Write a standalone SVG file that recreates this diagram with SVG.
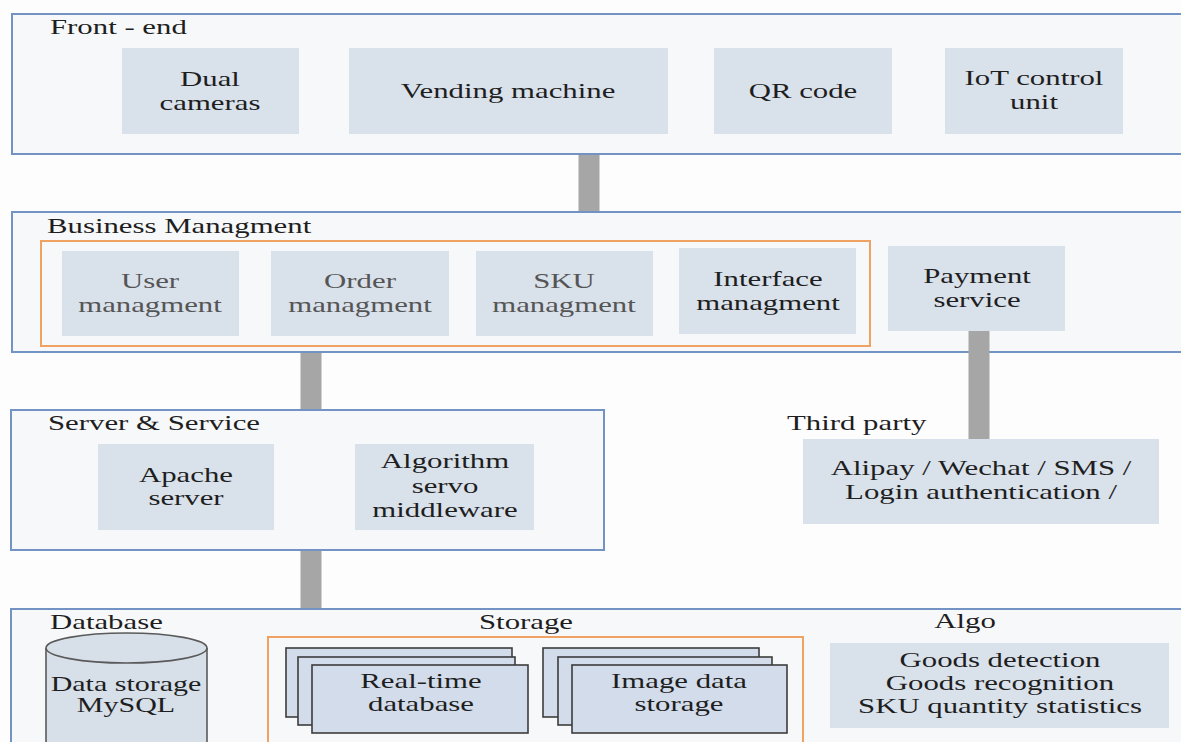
<svg xmlns="http://www.w3.org/2000/svg" width="1181" height="742" viewBox="0 0 1181 742">
<style>
.bg{fill:#fdfdfe}
.layer{fill:#f7f8fa;stroke:#7393c4;stroke-width:2}
.box{fill:#d9e1eb}
.orange{fill:none;stroke:#f0a262;stroke-width:2}
.page{fill:#d2dcea;stroke:#3c3c3c;stroke-width:1.6}
.cyl{fill:#d7dfe9;stroke:#5a5a5a;stroke-width:1.6}
.bar{stroke:#a6a6a6;stroke-width:21}
.t{font-family:'Liberation Serif','Times New Roman','DejaVu Serif',serif;font-size:22px;fill:#1e1e1e}
.c{text-anchor:middle}
.g{fill:#555}
.s{font-size:20px}
</style>
<rect class="bg" x="0" y="0" width="1181" height="742"/>
<g font-family="Liberation Serif, DejaVu Serif, serif" font-size="22">

<g id="front-end">
<rect class="layer" x="12" y="14" width="1180" height="140"/>
<text class="t" transform="translate(50 0) scale(1.4 1)" x="0" y="34">Front - end</text>
<g id="dual-cameras">
<rect class="box" x="122" y="48" width="177" height="86"/>
<text class="t c" transform="translate(210 0) scale(1.4 1)"><tspan x="0" y="86">Dual</tspan><tspan x="0" y="110">cameras</tspan></text>
</g>
<g id="vending-machine">
<rect class="box" x="349" y="48" width="319" height="86"/>
<text class="t c" transform="translate(508 0) scale(1.4 1)" x="0" y="98">Vending machine</text>
</g>
<g id="qr-code">
<rect class="box" x="714" y="48" width="178" height="86"/>
<text class="t c" transform="translate(803 0) scale(1.4 1)" x="0" y="98">QR code</text>
</g>
<g id="iot-control-unit">
<rect class="box" x="945" y="48" width="178" height="86"/>
<text class="t c" transform="translate(1034 0) scale(1.4 1)"><tspan x="0" y="85">IoT control</tspan><tspan x="0" y="109">unit</tspan></text>
</g>
</g>

<g id="business">
<rect class="layer" x="12" y="212" width="1180" height="140"/>
<text class="t" transform="translate(47 0) scale(1.4 1)" x="0" y="233">Business Managment</text>
<rect class="orange" x="41" y="241" width="829" height="105"/>
<g id="user-managment">
<rect class="box" x="62" y="251" width="177" height="85"/>
<text class="t c g" transform="translate(150 0) scale(1.4 1)"><tspan x="0" y="288">User</tspan><tspan x="0" y="312">managment</tspan></text>
</g>
<g id="order-managment">
<rect class="box" x="271" y="251" width="178" height="85"/>
<text class="t c g" transform="translate(360 0) scale(1.4 1)"><tspan x="0" y="288">Order</tspan><tspan x="0" y="312">managment</tspan></text>
</g>
<g id="sku-managment">
<rect class="box" x="476" y="251" width="177" height="85"/>
<text class="t c g" transform="translate(564 0) scale(1.4 1)"><tspan x="0" y="288">SKU</tspan><tspan x="0" y="312">managment</tspan></text>
</g>
<g id="interface-managment">
<rect class="box" x="679" y="248" width="177" height="86"/>
<text class="t c" transform="translate(768 0) scale(1.4 1)"><tspan x="0" y="286">Interface</tspan><tspan x="0" y="310">managment</tspan></text>
</g>
<g id="payment-service">
<rect class="box" x="888" y="246" width="177" height="85"/>
<text class="t c" transform="translate(977 0) scale(1.4 1)"><tspan x="0" y="283">Payment</tspan><tspan x="0" y="307">service</tspan></text>
</g>
</g>

<g id="server-service">
<rect class="layer" x="11" y="410" width="593" height="140"/>
<text class="t" transform="translate(48 0) scale(1.4 1)" x="0" y="430">Server &amp; Service</text>
<g id="apache-server">
<rect class="box" x="98" y="444" width="176" height="86"/>
<text class="t c" transform="translate(186 0) scale(1.4 1)"><tspan x="0" y="482">Apache</tspan><tspan x="0" y="505">server</tspan></text>
</g>
<g id="algorithm-middleware">
<rect class="box" x="355" y="444" width="179" height="86"/>
<text class="t c" transform="translate(445 0) scale(1.4 1)"><tspan x="0" y="468">Algorithm</tspan><tspan x="0" y="493">servo</tspan><tspan x="0" y="517">middleware</tspan></text>
</g>
</g>

<g id="third-party">
<text class="t" transform="translate(787 0) scale(1.4 1)" x="0" y="430">Third party</text>
<rect class="box" x="803" y="439" width="356" height="85"/>
<text class="t c" transform="translate(981 0) scale(1.4 1)"><tspan x="0" y="475">Alipay / Wechat / SMS /</tspan><tspan x="0" y="499">Login authentication /</tspan></text>
</g>

<g id="data-layer">
<rect class="layer" x="11" y="609" width="1180" height="160"/>
<text class="t" transform="translate(50 0) scale(1.4 1)" x="0" y="629">Database</text>
<text class="t c" transform="translate(526 0) scale(1.4 1)" x="0" y="629">Storage</text>
<text class="t c" transform="translate(965 0) scale(1.4 1)" x="0" y="628">Algo</text>
<g id="mysql">
<path class="cyl" d="M46 648 A80.5 15 0 0 1 207 648 L207 760 L46 760 Z"/>
<path class="cyl" d="M46 648 A80.5 15 0 0 0 207 648" fill="none"/>
<text class="t c s" transform="translate(126 0) scale(1.5 1)"><tspan x="0" y="691">Data storage</tspan><tspan x="0" y="712">MySQL</tspan></text>
</g>
<rect class="orange" x="268" y="637" width="535" height="130"/>
<g id="realtime-db">
<rect class="page" x="286" y="648" width="226" height="69"/>
<rect class="page" x="298" y="657" width="217" height="68"/>
<rect class="page" x="312" y="665" width="216" height="68"/>
<text class="t c" transform="translate(421 0) scale(1.4 1)"><tspan x="0" y="688">Real-time</tspan><tspan x="0" y="711">database</tspan></text>
</g>
<g id="image-storage">
<rect class="page" x="543" y="648" width="216" height="69"/>
<rect class="page" x="558" y="657" width="214" height="68"/>
<rect class="page" x="572" y="665" width="215" height="68"/>
<text class="t c" transform="translate(679 0) scale(1.4 1)"><tspan x="0" y="688">Image data</tspan><tspan x="0" y="711">storage</tspan></text>
</g>
<g id="algo">
<rect class="box" x="830" y="643" width="339" height="85"/>
<text class="t c" transform="translate(1000 0) scale(1.4 1)"><tspan x="0" y="667">Goods detection</tspan><tspan x="0" y="690">Goods recognition</tspan><tspan x="0" y="713">SKU quantity statistics</tspan></text>
</g>
</g>

<g id="connectors">
<line class="bar" x1="589" y1="155" x2="589" y2="211"/>
<line class="bar" x1="311" y1="353" x2="311" y2="409"/>
<line class="bar" x1="311" y1="551" x2="311" y2="608"/>
<line class="bar" x1="979" y1="331" x2="979" y2="439"/>
</g>
</g>
</svg>
